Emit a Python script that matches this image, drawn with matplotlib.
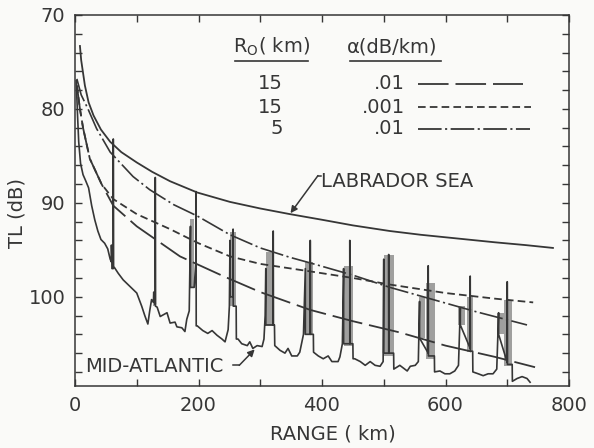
import matplotlib
matplotlib.use("Agg")
import matplotlib.pyplot as plt

plt.rcParams['font.family'] = ['DejaVu Sans']
plt.rcParams['mathtext.fontset'] = 'dejavusans'
plt.rcParams['lines.scale_dashes'] = False

INK = '#363636'
BG = '#fafaf8'

# ---------------- data (range km, transmission loss dB) ----------------
lab_x = [8, 10, 16, 22, 30, 42, 57, 75, 100, 125, 154, 198, 251, 300, 348, 400, 450, 510, 560, 620, 680, 730, 774]
lab_tl = [73.3, 74.8, 77.5, 79.3, 80.7, 82.2, 83.5, 84.6, 85.7, 86.7, 87.7, 88.9, 89.9, 90.6, 91.2, 91.8, 92.4, 93.0, 93.4, 93.8, 94.2, 94.5, 94.8]

dd_x = [3, 10, 21, 35, 57, 94, 121, 160, 198, 251, 300, 348, 381, 450, 510, 580, 650, 732]
dd_tl = [76.8, 78.5, 80.0, 82.1, 84.6, 87.2, 88.6, 90.2, 91.4, 93.4, 94.8, 95.8, 96.4, 97.7, 99.0, 100.3, 101.6, 103.0]

sd_x = [3, 8, 13, 24, 43, 62, 100, 154, 200, 251, 300, 381, 450, 510, 600, 680, 742]
sd_tl = [77.5, 80.0, 82.0, 85.3, 88.0, 89.6, 91.2, 92.8, 94.3, 95.7, 96.5, 97.3, 98.0, 98.7, 99.6, 100.2, 100.6]

ld_x = [3, 8, 13, 24, 43, 62, 100, 170, 240, 300, 381, 450, 526, 600, 680, 745]
ld_tl = [77.5, 80.0, 82.0, 85.3, 88.0, 90.3, 92.5, 95.7, 97.8, 99.5, 101.4, 102.6, 103.8, 105.2, 106.4, 107.5]

mid_x = [2, 4, 6, 9, 13, 17, 22, 27, 32, 37, 42, 48, 53, 57, 59,
         59, 60, 62, 62, 62.3, 64,
         70, 78, 89, 100, 108, 113, 118, 121, 124, 127,
         127.5, 130, 130, 130.3, 133,
         138, 149, 154, 162, 165, 173, 178, 181, 185,
         187, 187, 193, 196, 196, 196.3, 198,
         207, 215, 222, 230, 238, 243, 248, 250,
         251, 251, 256, 256, 256.3, 261, 261.3,
         264, 270, 279, 283, 288, 295, 303, 306, 308,
         309, 309, 321, 321, 321.3, 323, 323.5,
         332, 340, 345, 351, 360, 364, 370,
         373, 373, 381, 381, 381.3, 386, 386.3,
         394, 402, 410, 416, 426, 429, 433,
         435, 435, 445, 445, 445.3, 450, 450.3,
         453, 462, 470, 478, 486, 494, 499,
         500, 500, 508, 508, 508.3, 516, 516.3,
         526, 538, 543, 551, 556,
         558, 558, 572, 572, 572.3, 582, 582.3,
         591, 599, 607, 615, 621,
         624, 624, 640, 640, 640.3, 644, 644.3,
         653, 661, 669, 677, 683,
         686, 686, 700, 700, 700.3, 708, 708.3,
         716, 724, 732, 737]
mid_tl = [77.0, 80.5, 83.5, 85.8, 87.0, 87.6, 88.4, 90.3, 91.8, 93.0, 93.9, 94.3, 94.9, 96.0, 96.3,
          94.5, 97.0, 97.0, 83.2, 96.8, 96.9,
          97.5, 98.2, 98.9, 99.6, 101.0, 102.0, 102.9, 101.5, 100.3, 100.6,
          99.5, 100.8, 87.3, 101.0, 101.1,
          102.1, 101.7, 102.8, 102.7, 103.2, 103.3, 103.7, 102.4, 101.5,
          92.5, 99.0, 99.0, 96.0, 88.8, 103.1, 103.1,
          103.6, 103.9, 103.6, 104.1, 104.5, 104.8, 103.5, 101.0,
          94.0, 100.0, 100.0, 92.8, 101.0, 101.0, 104.5,
          104.5, 105.0, 105.2, 104.8, 105.5, 105.2, 105.3, 104.5, 102.0,
          97.0, 103.0, 103.0, 93.0, 103.0, 103.0, 105.2,
          105.7, 106.0, 105.5, 106.3, 106.3, 105.9, 104.0,
          97.0, 104.0, 104.0, 94.0, 104.0, 104.0, 105.9,
          106.3, 106.6, 106.3, 106.9, 106.9, 106.4, 105.0,
          97.0, 105.0, 105.0, 94.0, 105.0, 105.0, 106.6,
          106.6, 106.9, 107.3, 106.9, 107.3, 107.4, 106.9,
          96.0, 106.0, 106.0, 95.5, 106.0, 106.0, 107.7,
          107.3, 107.9, 107.4, 107.3, 106.9,
          100.5, 104.4, 106.0, 96.7, 106.3, 106.3, 108.0,
          107.9, 108.2, 108.2, 107.9, 107.3,
          101.2, 103.0, 105.5, 97.8, 105.8, 105.8, 108.0,
          108.2, 108.4, 108.2, 108.2, 107.7,
          101.7, 104.0, 107.0, 98.4, 107.2, 107.2, 109.0,
          108.7, 108.5, 108.7, 109.1]

# dense convergence-zone bands of the Mid-Atlantic trace: start, end, top, bottom
band_x0 = [59, 127, 186, 251, 309, 373, 435, 500, 557, 569, 621, 635, 684, 695]
band_x1 = [62, 130, 193, 261, 323, 386, 450, 517, 567, 583, 632, 645, 694, 708]
band_top = [94.5, 99.5, 91.7, 93.1, 95.2, 96.3, 96.7, 95.6, 100.0, 98.5, 101.0, 100.0, 101.7, 100.3]
band_bot = [97.0, 101.0, 99.0, 101.0, 103.1, 104.1, 105.2, 106.3, 104.4, 106.6, 103.0, 105.9, 104.0, 107.4]

# legend table
leg_r0 = ['15', '15', '5']
leg_alpha = ['.01', '.001', '.01']

x_ticks = [0, 200, 400, 600, 800]
y_ticks = [70, 80, 90, 100]

# ---------------- figure ----------------
fig = plt.figure(figsize=(5.94, 4.48), dpi=100)
fig.patch.set_facecolor(BG)
ax = fig.add_axes([75/594, 1-386/448, (569-75)/594, (386-15)/448])
ax.set_facecolor(BG)

LONG = (0, (22, 5))
SHORT = (0, (5.5, 3))
DDOT = (0, (17, 2.5, 1.5, 2.5))

ax.plot(lab_x, lab_tl, color=INK, lw=1.3)
ax.plot(ld_x, ld_tl, color=INK, lw=1.3, linestyle=LONG)
ax.plot(sd_x, sd_tl, color=INK, lw=1.3, linestyle=SHORT)
ax.plot(dd_x, dd_tl, color=INK, lw=1.2, linestyle=DDOT)

for x0, x1, t, b in zip(band_x0, band_x1, band_top, band_bot):
    ax.fill_between([x0, x1], [t, t], [b, b], color='#8f8f8f', lw=0, alpha=0.85)
ax.plot(mid_x, mid_tl, color=INK, lw=1.2)

ax.set_xlim(0, 800)
ax.set_ylim(109.5, 70)

ax.set_xticks(x_ticks)
ax.set_xticks([100, 300, 500, 700], minor=True)
ax.set_yticks(y_ticks)
ax.set_yticks([t for t in range(72, 110, 2) if t % 10], minor=True)
ax.tick_params(which='both', direction='in', length=5, width=1, color=INK,
               top=True, right=True, labelsize=14, labelcolor=INK, pad=7)
for s in ax.spines.values():
    s.set_color(INK)
    s.set_linewidth(1.1)

fig.text(17/594, 1-213/448, 'TL (dB)', rotation=90, ha='center', va='center',
         fontsize=14, color=INK)
fig.text(333/594, 1-434/448, 'RANGE ( km)', ha='center', va='center',
         fontsize=14, color=INK)

# legend table
tk = dict(fontsize=14, color=INK, va='center')
ax.text(256, 73.4, r'R$_\mathregular{O}$( km)', ha='left', **tk)
ax.text(440, 73.4, 'α(dB/km)', ha='left', **tk)
ax.plot([259, 377], [74.9, 74.9], color=INK, lw=1.2)
ax.plot([445, 592], [74.9, 74.9], color=INK, lw=1.2)
row_tl = [77.3, 79.8, 82.1]
styles = [LONG, SHORT, DDOT]
ends = [725, 738, 737]
for r0, al, y, st, e in zip(leg_r0, leg_alpha, row_tl, styles, ends):
    ax.text(337, y, r0, ha='right', **tk)
    ax.text(534, y, al, ha='right', **tk)
    ax.plot([555, e], [y, y], color=INK, lw=1.3, linestyle=st)

# annotations
ax.text(399, 87.7, 'LABRADOR SEA', ha='left', **tk)
ax.plot([393.5, 399], [87.1, 87.1], color=INK, lw=1.1)
ax.annotate('', xy=(349, 91.1), xytext=(393.5, 87.1),
            arrowprops=dict(arrowstyle='-|>', color=INK, lw=1.1, mutation_scale=10,
                            shrinkA=0, shrinkB=0))
ax.text(16, 107.45, 'MID-ATLANTIC', ha='left', **tk)
ax.plot([256, 266], [107.3, 107.3], color=INK, lw=1.1)
ax.annotate('', xy=(291, 105.6), xytext=(266, 107.3),
            arrowprops=dict(arrowstyle='-|>', color=INK, lw=1.1, mutation_scale=10,
                            shrinkA=0, shrinkB=0))

fig.savefig('out.png', dpi=100, facecolor=BG)
